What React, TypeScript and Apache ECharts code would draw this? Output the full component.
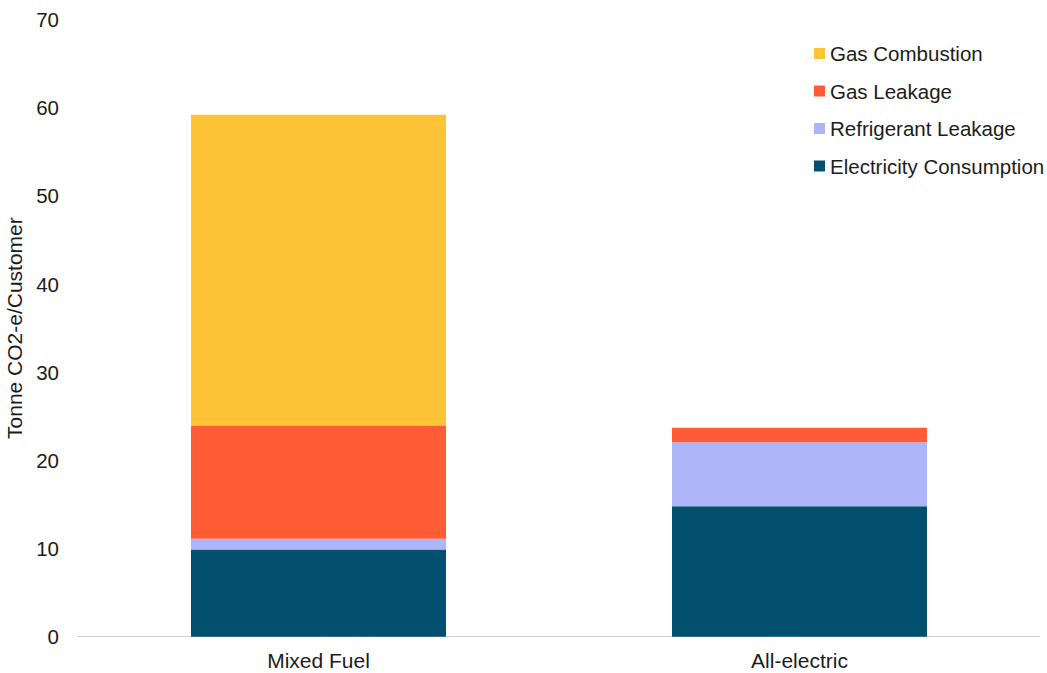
import React, { useEffect, useRef } from "react";
import * as echarts from "echarts";

// Lifetime emissions per customer, tonnes CO2-e
const categories = ["Mixed Fuel", "All-electric"];
const electricityConsumption = [9.9, 14.8];
const refrigerantLeakage = [1.2, 7.25];
const gasLeakage = [12.8, 1.65];
const gasCombustion = [35.3, 0];
const legendOrder = ["Gas Combustion", "Gas Leakage", "Refrigerant Leakage", "Electricity Consumption"];

const FONT = "'Liberation Sans', Arial, sans-serif";
const TEXT = "#1c1c1c";

export default function App() {
  const ref = useRef<HTMLDivElement>(null);

  useEffect(() => {
    if (!ref.current) return;
    const chart = echarts.init(ref.current, undefined, { renderer: "svg" });
    const bar = (name: string, data: number[], color: string) => ({
      name,
      type: "bar",
      stack: "total",
      data,
      barWidth: 255,
      itemStyle: { color },
    });
    chart.setOption({
      animation: false,
      textStyle: { fontFamily: FONT },
      grid: {
        left: 78,
        right: 7,
        top: 19.5,
        bottom: 36.3,
        containLabel: false,
        outerBoundsMode: "none",
      },
      legend: {
        data: legendOrder,
        orient: "vertical",
        left: 809,
        top: 38,
        itemWidth: 11,
        itemHeight: 11,
        itemGap: 16.5,
        icon: "rect",
        textStyle: { fontSize: 20.5, color: TEXT, fontFamily: FONT },
      },
      xAxis: {
        type: "category",
        data: categories,
        axisLine: { lineStyle: { color: "#d0d0d0", width: 1 } },
        axisTick: { show: false },
        axisLabel: { fontSize: 21, color: TEXT, margin: 13, fontFamily: FONT },
      },
      yAxis: {
        type: "value",
        min: 0,
        max: 70,
        interval: 10,
        name: "Tonne CO2-e/Customer",
        nameLocation: "middle",
        nameGap: 52,
        nameTextStyle: { fontSize: 21, color: TEXT, fontFamily: FONT },
        axisLine: { show: false },
        axisTick: { show: false },
        splitLine: { show: false },
        axisLabel: { fontSize: 20.5, color: TEXT, margin: 19, fontFamily: FONT },
      },
      series: [
        bar("Electricity Consumption", electricityConsumption, "#034F6E"),
        bar("Refrigerant Leakage", refrigerantLeakage, "#ADB4F7"),
        bar("Gas Leakage", gasLeakage, "#FF5C35"),
        bar("Gas Combustion", gasCombustion, "#FFC337"),
      ],
    });
    return () => chart.dispose();
  }, []);

  return (
    <div
      ref={ref}
      style={{ position: "fixed", left: 0, top: 0, width: 1047, height: 673, background: "#fff" }}
    />
  );
}
